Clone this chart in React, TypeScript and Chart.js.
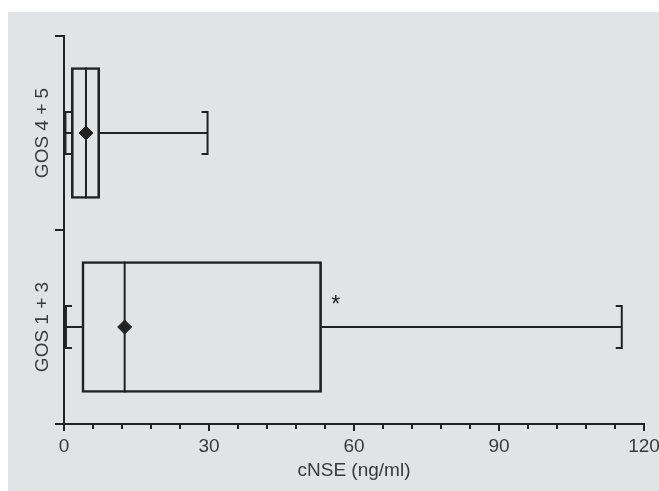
import React, { useEffect, useRef } from 'react';
import { Chart, registerables } from 'chart.js';

Chart.register(...registerables);

// ---- data ----
const categories = ['GOS 4 + 5', 'GOS 1 + 3'];
const whiskerMin = [0.3, 0.4];
const quartile1 = [1.5, 3.7];
const medians = [4.55, 12.55];
const means = [4.55, 12.55];
const quartile3 = [7.4, 53.3];
const whiskerMax = [29.7, 115.4];
const significance = ['', '*'];
const xTickValues = [0, 30, 60, 90, 120];
const xMinorStep = 6;
const xTitle = 'cNSE (ng/ml)';

// ---- style ----
const INK = '#222222';
const TEXT = '#3a3a3a';
const FONT = "'Liberation Sans', Arial, sans-serif";
const FONT_SIZE = 19;

const boxPlugin = {
  id: 'boxExtras',
  beforeDatasetsDraw(chart: any) {
    const { ctx, scales } = chart;
    const x = scales.x;
    const y = scales.y;
    ctx.save();
    ctx.strokeStyle = INK;
    ctx.lineWidth = 2;
    ctx.lineCap = 'butt';
    const capHalf = 21;
    const capEnd = 6;
    categories.forEach((_, i) => {
      const cy = y.getPixelForValue(i);
      const band = 131;
      const pMin = x.getPixelForValue(whiskerMin[i]);
      const pQ1 = x.getPixelForValue(quartile1[i]);
      const pQ3 = x.getPixelForValue(quartile3[i]);
      const pMax = x.getPixelForValue(whiskerMax[i]);
      const pMed = x.getPixelForValue(medians[i]);
      ctx.beginPath();
      ctx.moveTo(pMin, cy);
      ctx.lineTo(pQ1, cy);
      ctx.moveTo(pMin + capEnd, cy - capHalf);
      ctx.lineTo(pMin, cy - capHalf);
      ctx.lineTo(pMin, cy + capHalf);
      ctx.lineTo(pMin + capEnd, cy + capHalf);
      ctx.moveTo(pQ3, cy);
      ctx.lineTo(pMax, cy);
      ctx.moveTo(pMax - capEnd, cy - capHalf);
      ctx.lineTo(pMax, cy - capHalf);
      ctx.lineTo(pMax, cy + capHalf);
      ctx.lineTo(pMax - capEnd, cy + capHalf);
      ctx.moveTo(pMed, cy - band / 2);
      ctx.lineTo(pMed, cy + band / 2);
      ctx.stroke();
    });
    ctx.restore();
  },
  afterDraw(chart: any) {
    const { ctx, scales } = chart;
    const x = scales.x;
    const y = scales.y;
    ctx.save();
    ctx.strokeStyle = INK;
    ctx.lineWidth = 2;
    ctx.beginPath();
    for (let v = x.min; v <= x.max; v += xMinorStep) {
      if (xTickValues.includes(v)) continue;
      const px = Math.round(x.getPixelForValue(v));
      ctx.moveTo(px, x.top);
      ctx.lineTo(px, x.top + 5);
    }
    ctx.stroke();
    ctx.fillStyle = TEXT;
    ctx.font = `${FONT_SIZE}px ${FONT}`;
    ctx.textAlign = 'center';
    ctx.textBaseline = 'middle';
    categories.forEach((label, i) => {
      const cy = y.getPixelForValue(i);
      ctx.save();
      ctx.translate(35, cy);
      ctx.rotate(-Math.PI / 2);
      ctx.fillText(label, 0, 0);
      ctx.restore();
    });
    ctx.font = `23px ${FONT}`;
    ctx.fillStyle = INK;
    ctx.textBaseline = 'alphabetic';
    categories.forEach((_, i) => {
      if (!significance[i]) return;
      const cy = y.getPixelForValue(i);
      const px = x.getPixelForValue(quartile3[i]);
      ctx.fillText(significance[i], px + 14, cy - 15);
    });
    ctx.restore();
  },
};

export default function App() {
  const canvasRef = useRef<HTMLCanvasElement | null>(null);

  useEffect(() => {
    if (!canvasRef.current) return;
    const chart = new Chart(canvasRef.current, {
      type: 'bar',
      data: {
        labels: categories,
        datasets: [
          {
            type: 'scatter',
            label: 'Mean',
            data: means.map((m, i) => ({ x: m, y: i })),
            pointStyle: 'rectRot',
            pointRadius: 7,
            backgroundColor: INK,
            borderColor: INK,
            borderWidth: 1,
            order: 0,
          } as any,
          {
            type: 'bar',
            label: 'Interquartile range',
            data: categories.map((_, i) => [quartile1[i], quartile3[i]]),
            backgroundColor: 'rgba(0,0,0,0)',
            borderColor: INK,
            borderWidth: 2,
            borderSkipped: false,
            barThickness: 131,
            order: 1,
          } as any,
        ],
      },
      options: {
        indexAxis: 'y',
        responsive: false,
        animation: false,
        events: [],
        layout: { padding: { top: 24, right: 15, bottom: 0, left: 0 } },
        plugins: {
          legend: { display: false },
          tooltip: { enabled: false },
        },
        scales: {
          x: {
            type: 'linear',
            min: 0,
            max: 120,
            afterBuildTicks: (s: any) => {
              s.ticks = xTickValues.map((v) => ({ value: v }));
            },
            ticks: {
              color: TEXT,
              font: { size: FONT_SIZE, family: FONT },
              padding: 4,
            },
            grid: {
              drawOnChartArea: false,
              drawTicks: true,
              tickLength: 7,
              color: INK,
              lineWidth: 2,
            },
            border: { display: true, color: INK, width: 2 },
            title: {
              display: true,
              text: xTitle,
              color: TEXT,
              font: { size: FONT_SIZE, family: FONT },
              padding: { top: 0, bottom: 9 },
            },
            afterFit: (s: any) => {
              s.height = 67;
              s.paddingLeft = 0;
              s.paddingRight = 0;
            },
          },
          y: {
            type: 'category',
            offset: true,
            ticks: { display: false },
            grid: {
              offset: true,
              drawOnChartArea: false,
              drawTicks: true,
              tickLength: 9,
              color: INK,
              lineWidth: 2,
            },
            border: { display: true, color: INK, width: 2 },
            afterFit: (s: any) => {
              s.width = 56;
            },
          },
        },
      } as any,
      plugins: [boxPlugin],
    });
    return () => chart.destroy();
  }, []);

  return (
    <div
      style={{
        position: 'absolute',
        left: 8,
        top: 12,
        width: 651,
        height: 479,
        background: '#e2e3e5',
      }}
    >
      <canvas ref={canvasRef} width={651} height={479} />
    </div>
  );
}
